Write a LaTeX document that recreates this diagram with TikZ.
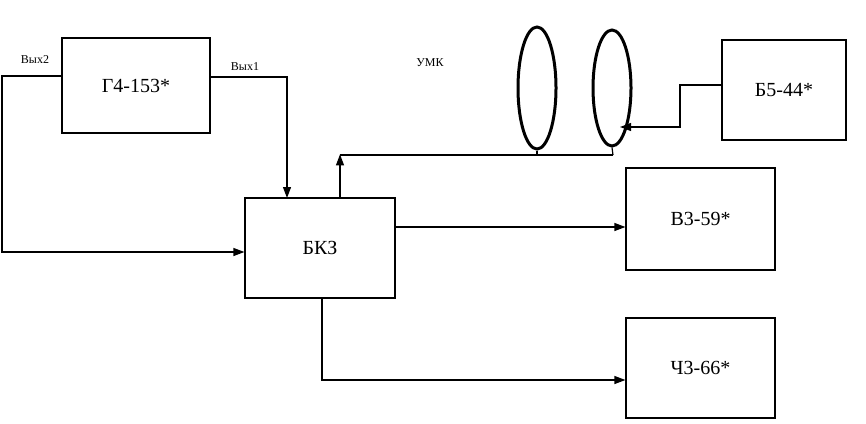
\documentclass[tikz,border=0pt]{standalone}
\usepackage{fontspec}
\setmainfont{Liberation Serif}
\usetikzlibrary{arrows.meta,shapes.geometric}
\begin{document}
\begin{tikzpicture}[x=1pt,y=-1pt,line width=1.2pt,
  blk/.style={draw,minimum width=0pt,inner sep=0pt,font=\fontsize{20}{22}\selectfont},
  lbl/.style={font=\fontsize{12}{13}\selectfont},
  arr/.style={-{Triangle[length=11pt,width=8pt]}}]
\useasboundingbox (0,0) rectangle (866,423);
\node[blk,minimum width=148pt,minimum height=95pt] (g) at (136,85.5) {Г4-153*};
\node[blk,minimum width=150pt,minimum height=100pt] (bk) at (320,248) {БКЗ};
\node[blk,minimum width=124pt,minimum height=100pt] (b5) at (784,90) {Б5-44*};
\node[blk,minimum width=149pt,minimum height=102pt] (v3) at (700.5,219) {В3-59*};
\node[blk,minimum width=149pt,minimum height=100pt] (c3) at (700.5,368) {Ч3-66*};
\node[draw,ellipse,minimum width=38pt,minimum height=122pt,inner sep=0pt,line width=3pt] (e1) at (537,88) {};
\node[draw,ellipse,minimum width=38pt,minimum height=116pt,inner sep=0pt,line width=3pt] (e2) at (612,88) {};
\node[lbl] (o2) at (35,60) {Вых2};
\node[lbl] (o1) at (245,67) {Вых1};
\node[lbl] (umk) at (430,63) {УМК};
\coordinate (j1) at (537,155);
\coordinate (j2) at (613,155);
\draw[arr] (g.west |- 0,76) -- (2,76) -- (2,252) -- (bk.west |- 0,252);
\draw[arr] (g.east |- 0,77) -- (287,77) -- (287,198);
\draw (j2) -- (340,155);
\draw[arr] (340,198) -- (340,154.4);
\draw (e1.south) -- (j1);
\draw (e2.south) -- (j2);
\draw[arr] (b5.west |- 0,85) -- (680,85) -- (680,127) -- (620,127);
\draw[arr] (bk.east |- 0,227) -- (v3.west |- 0,227);
\draw[arr] (322,298) -- (322,380) -- (c3.west |- 0,380);
\end{tikzpicture}
\end{document}
